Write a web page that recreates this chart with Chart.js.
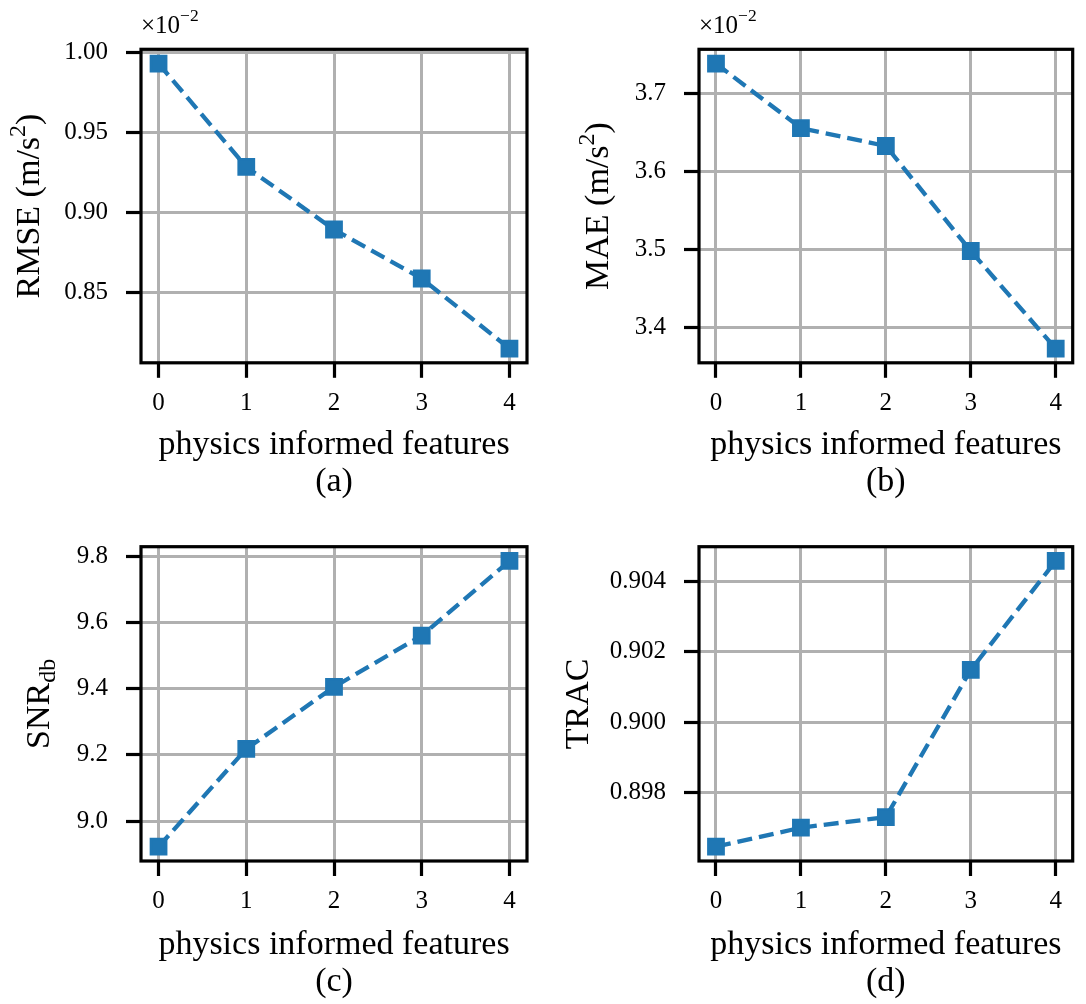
<!DOCTYPE html>
<html><head><meta charset="utf-8">
<script src="https://cdn.jsdelivr.net/npm/chart.js@4.4.1/dist/chart.umd.min.js"></script>
<style>
html,body{margin:0;padding:0;background:#fff;}
body{width:1086px;height:1004px;position:relative;overflow:hidden;}
canvas{position:absolute;}
</style></head><body>
<canvas id="cA" width="543" height="500" style="left:0px;top:0px"></canvas>
<canvas id="cB" width="543" height="500" style="left:543px;top:0px"></canvas>
<canvas id="cC" width="543" height="504" style="left:0px;top:500px"></canvas>
<canvas id="cD" width="543" height="504" style="left:543px;top:500px"></canvas>
<script>
// ---- data ----
const features = [0, 1, 2, 3, 4];
const featureTicks = [0, 1, 2, 3, 4];
const rmse = [0.9932, 0.9284, 0.8892, 0.8585, 0.8146];   // x10^-2 m/s^2
const mae  = [3.739, 3.656, 3.633, 3.498, 3.3726];        // x10^-2 m/s^2
const snr  = [8.923, 9.218, 9.405, 9.560, 9.785];
const trac = [0.89647, 0.89701, 0.89731, 0.90149, 0.90458];
const rmseTicks = [0.85, 0.90, 0.95, 1.00];
const maeTicks  = [3.4, 3.5, 3.6, 3.7];
const snrTicks  = [9.0, 9.2, 9.4, 9.6, 9.8];
const tracTicks = [0.898, 0.900, 0.902, 0.904];
const xTitle = 'physics informed features';
const captions = ['(a)', '(b)', '(c)', '(d)'];

const FONT = "'Liberation Serif', 'Times New Roman', serif";
const BLUE = '#1f77b4';
Chart.defaults.font.family = FONT;
Chart.defaults.color = '#000';

function limits(arr) {
  const mn = Math.min(...arr), mx = Math.max(...arr), r = mx - mn;
  return [mn - 0.05 * r, mx + 0.05 * r];
}

function drawRich(ctx, segs, x, y, rotate) {
  ctx.save();
  ctx.translate(x, y);
  if (rotate) ctx.rotate(-Math.PI / 2);
  ctx.fillStyle = '#000';
  ctx.textBaseline = 'alphabetic';
  ctx.textAlign = 'left';
  let total = 0;
  segs.forEach(s => { ctx.font = s.size + 'px ' + FONT; s.w = ctx.measureText(s.t).width; total += s.w; });
  let cx = rotate ? -total / 2 : 0;
  segs.forEach(s => { ctx.font = s.size + 'px ' + FONT; ctx.fillText(s.t, cx, s.dy || 0); cx += s.w; });
  ctx.restore();
}

const decorPlugin = {
  id: 'decor',
  afterDatasetsDraw(chart, args, opts) {
    const a = chart.chartArea, ctx = chart.ctx;
    ctx.save();
    ctx.strokeStyle = '#000';
    ctx.lineWidth = 3.2;
    ctx.strokeRect(a.left, a.top, a.right - a.left, a.bottom - a.top);
    ctx.restore();
  },
  afterDraw(chart, args, opts) {
    const a = chart.chartArea, ctx = chart.ctx;
    drawRich(ctx, opts.yTitle, opts.yTitleX, (a.top + a.bottom) / 2, true);
    if (opts.offset) {
      drawRich(ctx, [{t: '\u00d710', size: 25}, {t: '\u22122', size: 17.5, dy: -12}], a.left, opts.offsetY, false);
    }
  }
};

function makePanel(id, vals, yTicks, decimals, caption, lay, decor) {
  const [ymin, ymax] = limits(vals);
  const gridCommon = {color: '#b0b0b0', lineWidth: 3, tickColor: '#000', tickWidth: 3.2, tickLength: 15, drawTicks: true};
  new Chart(document.getElementById(id), {
    type: 'line',
    data: {
      datasets: [{
        data: features.map((f, i) => ({x: f, y: vals[i]})),
        borderColor: BLUE, backgroundColor: BLUE,
        borderWidth: 4.3, borderDash: [15, 7],
        pointStyle: 'rect', pointRadius: 10.8, pointBorderWidth: 2.5,
        pointBackgroundColor: BLUE, pointBorderColor: BLUE,
        tension: 0, fill: false, clip: false
      }]
    },
    options: {
      responsive: false, animation: false, devicePixelRatio: 1,
      layout: {padding: lay.padding},
      plugins: {legend: {display: false}, tooltip: {enabled: false}, decor: decor},
      scales: {
        x: {
          type: 'linear', min: -0.2, max: 4.2,
          afterBuildTicks: s => { s.ticks = featureTicks.map(v => ({value: v})); },
          afterFit: s => { s.height = lay.xH; },
          ticks: {font: {size: 25, family: FONT}, padding: 10.5, maxRotation: 0, autoSkip: false, callback: v => String(v)},
          grid: gridCommon,
          border: {display: false},
          title: {display: true, text: [xTitle, caption], font: {size: 34, lineHeight: 1.08, family: FONT}, padding: 0, color: '#000'}
        },
        y: {
          type: 'linear', min: ymin, max: ymax,
          afterBuildTicks: s => { s.ticks = yTicks.map(v => ({value: v})); },
          afterFit: s => { s.width = lay.yW; },
          ticks: {font: {size: 25, family: FONT}, padding: 18, autoSkip: false, callback: v => Number(v).toFixed(decimals)},
          grid: gridCommon,
          border: {display: false}
        }
      }
    },
    plugins: [decorPlugin]
  });
}

makePanel('cA', rmse, rmseTicks, 2, captions[0],
  {padding: {top: 49.3, right: 16, bottom: 0, left: 0}, xH: 137.2, yW: 141},
  {yTitle: [{t: 'RMSE (m/s', size: 34}, {t: '2', size: 24, dy: -14}, {t: ')', size: 34}], yTitleX: 39, offset: true, offsetY: 33.3});
makePanel('cB', mae, maeTicks, 1, captions[1],
  {padding: {top: 49.3, right: 1, bottom: 0, left: 0}, xH: 137.2, yW: 156},
  {yTitle: [{t: 'MAE (m/s', size: 34}, {t: '2', size: 24, dy: -14}, {t: ')', size: 34}], yTitleX: 65.2, offset: true, offsetY: 33});
makePanel('cC', snr, snrTicks, 1, captions[2],
  {padding: {top: 46.7, right: 16, bottom: 3.65, left: 0}, xH: 139.35, yW: 141},
  {yTitle: [{t: 'SNR', size: 34}, {t: 'db', size: 24, dy: 6}], yTitleX: 49.2, offset: false});
makePanel('cD', trac, tracTicks, 3, captions[3],
  {padding: {top: 46.7, right: 1, bottom: 3.65, left: 0}, xH: 139.35, yW: 156},
  {yTitle: [{t: 'TRAC', size: 34}], yTitleX: 45.2, offset: false});
</script>
</body></html>
